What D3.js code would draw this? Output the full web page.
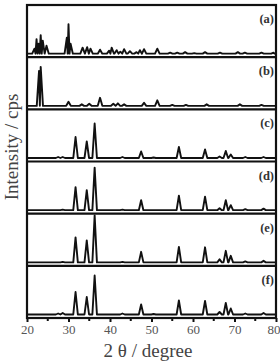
<!DOCTYPE html>
<html lang="en">
<head>
<meta charset="UTF-8">
<title>XRD patterns</title>
<script src="https://d3js.org/d3.v7.min.js"></script>
<style>
  body { margin: 0; background: #fff; }
  svg { display: block; }
  text { font-family: "Liberation Serif", "DejaVu Serif", serif; }
</style>
</head>
<body>
<div id="plot"></div>
<script>
// panel labels, top to bottom
const panelLabels = ['(a)', '(b)', '(c)', '(d)', '(e)', '(f)'];

// x axis ticks (2 theta, degree)
const xMajorTicks = [20, 30, 40, 50, 60, 70, 80];
const xMinorTicks = [25, 35, 45, 55, 65, 75];

// peak positions (2 theta) and relative intensities
const peaksA = [21.8, 22.3, 22.8, 23.3, 23.8, 24.7, 29.6, 30.0, 30.5, 33.4, 34.5, 35.3, 37.6, 39.8, 40.4, 41.6, 42.5, 43.4, 44.8, 46.4, 47.2, 48.2, 51.4, 54.5, 56.2, 58.1, 60.3, 62.9, 66.5, 70.8, 72.5, 76.5, 79.4];
const intA   = [0.1, 0.29, 0.2, 0.37, 0.26, 0.16, 0.32, 0.59, 0.2, 0.12, 0.13, 0.1, 0.08, 0.06, 0.12, 0.07, 0.04, 0.09, 0.05, 0.03, 0.07, 0.09, 0.1, 0.02, 0.02, 0.03, 0.01, 0.03, 0.02, 0.03, 0.02, 0.02, 0.02];

const peaksB = [22.9, 23.3, 30.0, 33.2, 35.0, 37.6, 40.8, 41.9, 43.4, 48.2, 51.4, 55.0, 58.3, 63.3, 71.3, 76.5];
const intB   = [0.7, 0.78, 0.08, 0.03, 0.04, 0.16, 0.04, 0.05, 0.03, 0.06, 0.11, 0.02, 0.02, 0.03, 0.03, 0.02];

// ZnO type reflections shared by (c)-(f)
const peaksZnO = [27.5, 28.6, 31.7, 34.4, 36.3, 43.0, 47.5, 50.5, 56.6, 62.9, 66.4, 67.9, 69.1, 72.6, 77.0];
const intC = [0.02, 0.02, 0.42, 0.33, 0.69, 0.02, 0.13, 0.01, 0.22, 0.17, 0.03, 0.14, 0.07, 0.02, 0.02];
const intD = [0.0, 0.01, 0.46, 0.4, 0.85, 0.01, 0.2, 0.0, 0.29, 0.27, 0.04, 0.2, 0.1, 0.02, 0.03];
const intE = [0.0, 0.01, 0.5, 0.44, 0.94, 0.01, 0.21, 0.0, 0.31, 0.3, 0.06, 0.23, 0.13, 0.02, 0.03];
const intF = [0.02, 0.03, 0.45, 0.35, 0.78, 0.02, 0.2, 0.01, 0.28, 0.27, 0.05, 0.23, 0.12, 0.02, 0.03];

const series = [
  { pos: peaksA, val: intA },
  { pos: peaksB, val: intB },
  { pos: peaksZnO, val: intC },
  { pos: peaksZnO, val: intD },
  { pos: peaksZnO, val: intE },
  { pos: peaksZnO, val: intF }
];

const width = 280, height = 362;
const margin = { top: 5, right: 4, bottom: 44, left: 27 };
const plotBottom = height - margin.bottom;
const panelH = (plotBottom - margin.top) / series.length;

const svg = d3.select('#plot').append('svg')
  .attr('width', width)
  .attr('height', height);

const x = d3.scaleLinear()
  .domain([20, 80])
  .range([margin.left, width - margin.right]);

const halfWidth = 0.55;

// turn a peak list into line vertices (baseline - top - baseline for each peak)
function peakPoints(pos, val) {
  const pts = [[20, 0]];
  pos.forEach((p, i) => {
    const prev = i > 0 ? pos[i - 1] : 20;
    const next = i < pos.length - 1 ? pos[i + 1] : 80;
    const wl = Math.min(halfWidth, (p - prev) / 2);
    const wr = Math.min(halfWidth, (next - p) / 2);
    pts.push([p - wl, 0], [p, val[i]], [p + wr, 0]);
  });
  pts.push([80, 0]);
  return pts;
}

series.forEach((s, i) => {
  const top = margin.top + i * panelH;
  const y = d3.scaleLinear()
    .domain([0, 1])
    .range([top + panelH - 3.5, top + panelH - 53.5]);

  const line = d3.line()
    .x(d => x(d[0]))
    .y(d => y(d[1]));

  svg.append('path')
    .datum(peakPoints(s.pos, s.val))
    .attr('fill', 'none')
    .attr('stroke', '#111')
    .attr('stroke-width', 1.9)
    .attr('stroke-linejoin', 'round')
    .attr('d', line);

  svg.append('text')
    .attr('x', width - margin.right - 2)
    .attr('y', top + 18)
    .attr('text-anchor', 'end')
    .attr('font-size', 12.5)
    .attr('font-weight', 'bold')
    .attr('fill', '#333')
    .text(panelLabels[i]);

  // divider between panels
  if (i > 0) {
    svg.append('line')
      .attr('x1', margin.left).attr('x2', width - margin.right)
      .attr('y1', top).attr('y2', top)
      .attr('stroke', '#111')
      .attr('stroke-width', 2.2);
  }
});

// outer frame
svg.append('rect')
  .attr('x', margin.left)
  .attr('y', margin.top)
  .attr('width', width - margin.right - margin.left)
  .attr('height', plotBottom - margin.top)
  .attr('fill', 'none')
  .attr('stroke', '#111')
  .attr('stroke-width', 2.2);

// x axis
const xAxis = svg.append('g')
  .attr('transform', `translate(0,${plotBottom})`)
  .call(d3.axisBottom(x).tickValues(xMajorTicks).tickSize(4).tickPadding(3).tickFormat(d3.format('d')));
xAxis.select('.domain').remove();
xAxis.selectAll('line').attr('stroke', '#111').attr('stroke-width', 2);
xAxis.selectAll('text')
  .attr('font-family', '"Liberation Serif", serif')
  .attr('font-size', 13)
  .attr('fill', '#555');
// last label sits at the window edge, keep it inside
xAxis.selectAll('text').filter(d => d === 80)
  .attr('text-anchor', 'end')
  .attr('dx', 4);

svg.append('g')
  .attr('transform', `translate(0,${plotBottom})`)
  .selectAll('line')
  .data(xMinorTicks)
  .join('line')
  .attr('x1', d => x(d)).attr('x2', d => x(d))
  .attr('y1', 0).attr('y2', 3)
  .attr('stroke', '#111')
  .attr('stroke-width', 2);

// axis titles
svg.append('text')
  .attr('x', 148)
  .attr('y', 357)
  .attr('text-anchor', 'middle')
  .attr('font-size', 19)
  .attr('fill', '#444')
  .text('2 θ / degree');

svg.append('text')
  .attr('transform', 'translate(18,147) rotate(-90)')
  .attr('text-anchor', 'middle')
  .attr('font-size', 19)
  .attr('fill', '#444')
  .text('Intensity / cps');
</script>
</body>
</html>
